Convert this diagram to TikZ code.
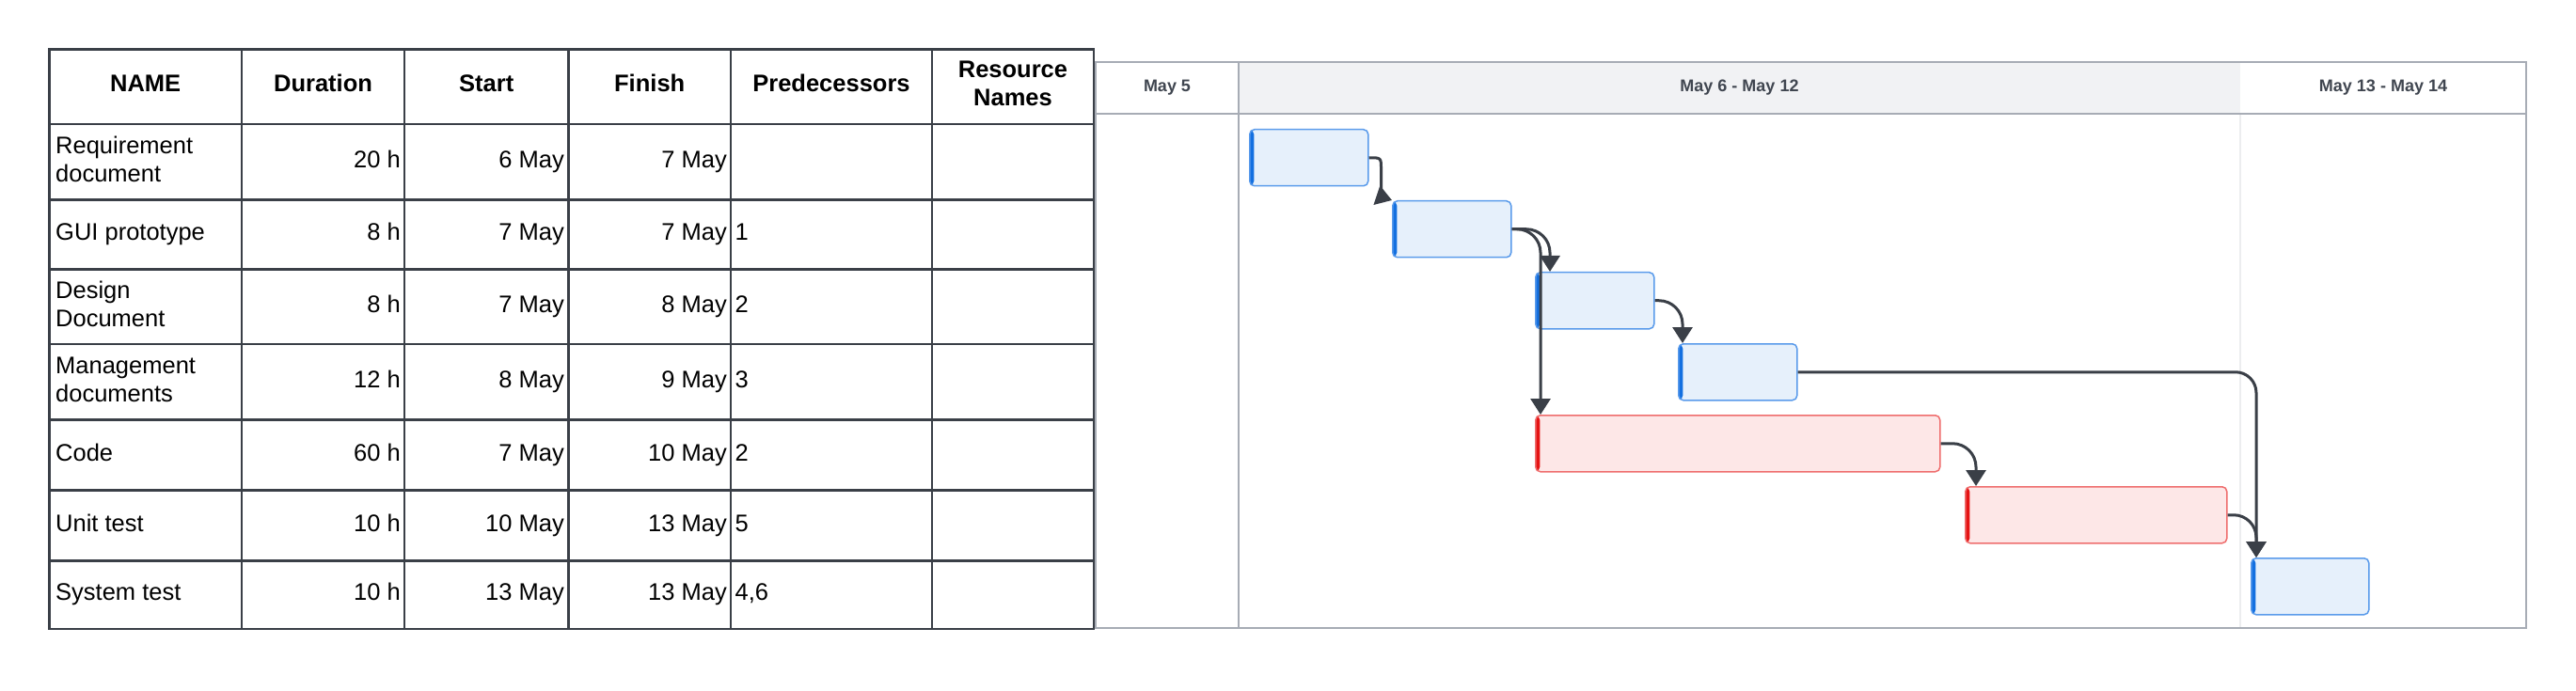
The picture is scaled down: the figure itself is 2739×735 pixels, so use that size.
\documentclass[tikz,border=0pt]{standalone}
\usepackage{fontspec}
\setmainfont{Liberation Sans}
\usetikzlibrary{arrows.meta,calc}
\definecolor{tline}{RGB}{58,63,71}
\definecolor{gline}{RGB}{167,172,181}
\definecolor{hfill}{RGB}{241,242,244}
\definecolor{lightdiv}{RGB}{236,237,239}
\definecolor{bfill}{RGB}{230,240,251}
\definecolor{bdraw}{RGB}{90,155,235}
\definecolor{bstripe}{RGB}{20,112,224}
\definecolor{rfill}{RGB}{253,231,231}
\definecolor{rdraw}{RGB}{239,110,110}
\definecolor{rstripe}{RGB}{229,20,20}
\definecolor{arr}{RGB}{58,63,71}
\definecolor{htext}{RGB}{64,70,80}
\begin{document}
\begin{tikzpicture}[x=1pt,y=-1pt,
  tablerule/.style={draw=tline,line width=2.8pt},
  ganttrule/.style={draw=gline,line width=2pt},
  cell/.style={inner sep=0pt,font=\fontsize{25.5}{30}\selectfont},
  twoline/.style={cell,align=left,anchor=west},
  hcell/.style={inner sep=0pt,font=\fontsize{25.5}{30}\selectfont\bfseries,align=center},
  ghead/.style={inner sep=0pt,anchor=base,font=\fontsize{18}{22}\selectfont\bfseries,text=htext},
  taskbar/.style={rectangle,rounded corners=5pt,inner sep=0pt,minimum height=60pt,anchor=north west,line width=1.5pt},
  bluebar/.style={taskbar,fill=bfill,draw=bdraw,path picture={\fill[bstripe] (path picture bounding box.south west) rectangle ([xshift=4.5pt]path picture bounding box.north west);}},
  redbar/.style={taskbar,fill=rfill,draw=rdraw,path picture={\fill[rstripe] (path picture bounding box.south west) rectangle ([xshift=4.5pt]path picture bounding box.north west);}},
  conn/.style={draw=arr,line width=3pt,-{Triangle[length=17pt,width=21pt]}}
]
\useasboundingbox (0,0) rectangle (2739,735);
\fill[white] (0,0) rectangle (2739,735);

% ---- Gantt chart frame ----
\fill[hfill] (1316.7,66) rectangle (2382,120.7);
\draw[lightdiv,line width=2pt] (2382,120.7) -- (2382,668.3);
\draw[ganttrule] (1165,66) rectangle (2686,668.3);
\draw[ganttrule] (1165,120.7) -- (2686,120.7);
\draw[ganttrule] (1316.7,66) -- (1316.7,668.3);
\node[ghead] (h1) at (1241,97.3) {May 5};
\node[ghead] (h2) at (1849.5,97.3) {May 6 - May 12};
\node[ghead] (h3) at (2534,97.3) {May 13 - May 14};

% ---- Table grid ----
\draw[tablerule] (52.5,52.7) rectangle (1163,669);
\foreach \x in {257,430,604.3,777,991} \draw[tablerule] (\x,52.7) -- (\x,669);
\foreach \y in {132,212.7,286.7,366,446.7,521.7,596.7} \draw[tablerule] (52.5,\y) -- (1163,\y);

% header
\node[hcell,anchor=base] (tname) at (154.7,97.5) {NAME};
\node[hcell,anchor=base] (tdur) at (343.5,97.5) {Duration};
\node[hcell,anchor=base] (tstart) at (517.2,97.5) {Start};
\node[hcell,anchor=base] (tfin) at (690.7,97.5) {Finish};
\node[hcell,anchor=base] (tpred) at (884,97.5) {Predecessors};
\node[hcell] (tres) at (1077,88.6) {Resource\\Names};

% row 1
\node[twoline] (n1) at (59,169.4) {Requirement\\document};
\node[cell,anchor=base east] (d1) at (426,178.4) {20 h};
\node[cell,anchor=base east] (s1) at (600,178.4) {6 May};
\node[cell,anchor=base east] (f1) at (773,178.4) {7 May};
% row 2
\node[cell,anchor=base west] (n2) at (59,255.7) {GUI prototype};
\node[cell,anchor=base east] (d2) at (426,255.7) {8 h};
\node[cell,anchor=base east] (s2) at (600,255.7) {7 May};
\node[cell,anchor=base east] (f2) at (773,255.7) {7 May};
\node[cell,anchor=base west] (p2) at (781.5,255.7) {1};
% row 3
\node[twoline] (n3) at (59,323.4) {Design\\Document};
\node[cell,anchor=base east] (d3) at (426,332.4) {8 h};
\node[cell,anchor=base east] (s3) at (600,332.4) {7 May};
\node[cell,anchor=base east] (f3) at (773,332.4) {8 May};
\node[cell,anchor=base west] (p3) at (781.5,332.4) {2};
% row 4
\node[twoline] (n4) at (59,403.4) {Management\\documents};
\node[cell,anchor=base east] (d4) at (426,412.4) {12 h};
\node[cell,anchor=base east] (s4) at (600,412.4) {8 May};
\node[cell,anchor=base east] (f4) at (773,412.4) {9 May};
\node[cell,anchor=base west] (p4) at (781.5,412.4) {3};
% row 5
\node[cell,anchor=base west] (n5) at (59,490.2) {Code};
\node[cell,anchor=base east] (d5) at (426,490.2) {60 h};
\node[cell,anchor=base east] (s5) at (600,490.2) {7 May};
\node[cell,anchor=base east] (f5) at (773,490.2) {10 May};
\node[cell,anchor=base west] (p5) at (781.5,490.2) {2};
% row 6
\node[cell,anchor=base west] (n6) at (59,565.2) {Unit test};
\node[cell,anchor=base east] (d6) at (426,565.2) {10 h};
\node[cell,anchor=base east] (s6) at (600,565.2) {10 May};
\node[cell,anchor=base east] (f6) at (773,565.2) {13 May};
\node[cell,anchor=base west] (p6) at (781.5,565.2) {5};
% row 7
\node[cell,anchor=base west] (n7) at (59,638.9) {System test};
\node[cell,anchor=base east] (d7) at (426,638.9) {10 h};
\node[cell,anchor=base east] (s7) at (600,638.9) {13 May};
\node[cell,anchor=base east] (f7) at (773,638.9) {13 May};
\node[cell,anchor=base west] (p7) at (781.5,638.9) {4,6};

% ---- Task bars ----
\node[bluebar,minimum width=126pt] (b1) at (1328,137) {};
\node[bluebar,minimum width=126pt] (b2) at (1480,213) {};
\node[bluebar,minimum width=126pt] (b3) at (1632,289) {};
\node[bluebar,minimum width=126pt] (b4) at (1784,365) {};
\node[redbar,minimum width=430pt] (b5) at (1632,441) {};
\node[redbar,minimum width=278pt] (b6) at (2089,517) {};
\node[bluebar,minimum width=125pt] (b7) at (2393,593) {};

% ---- Dependencies ----
\draw[conn] (b1.east) .. controls ($(b1.east)+(13,0)$) .. ($(b1.east)+(13,12)$) -- ($(b1.east)+(13,32)$) .. controls ($(b1.east)+(13,40)$) and ($(b2.north west)+(-9,-3)$) .. (b2.north west);
\draw[conn,rounded corners=25pt] (b2.east) -| ($(b3.north west)+(16,0)$);
\draw[conn,rounded corners=25pt] (b2.east) -| ($(b5.north west)+(6,0)$);
\draw[conn,rounded corners=25pt] (b3.east) -| ($(b4.north west)+(5,0)$);
\draw[conn,rounded corners=22pt] (b4.east) -| ($(b7.north west)+(6,0)$);
\draw[conn,rounded corners=25pt] (b5.east) -| ($(b6.north west)+(12,0)$);
\draw[conn,rounded corners=24pt] (b6.east) -| ($(b7.north west)+(6,0)$);
\end{tikzpicture}
\end{document}
